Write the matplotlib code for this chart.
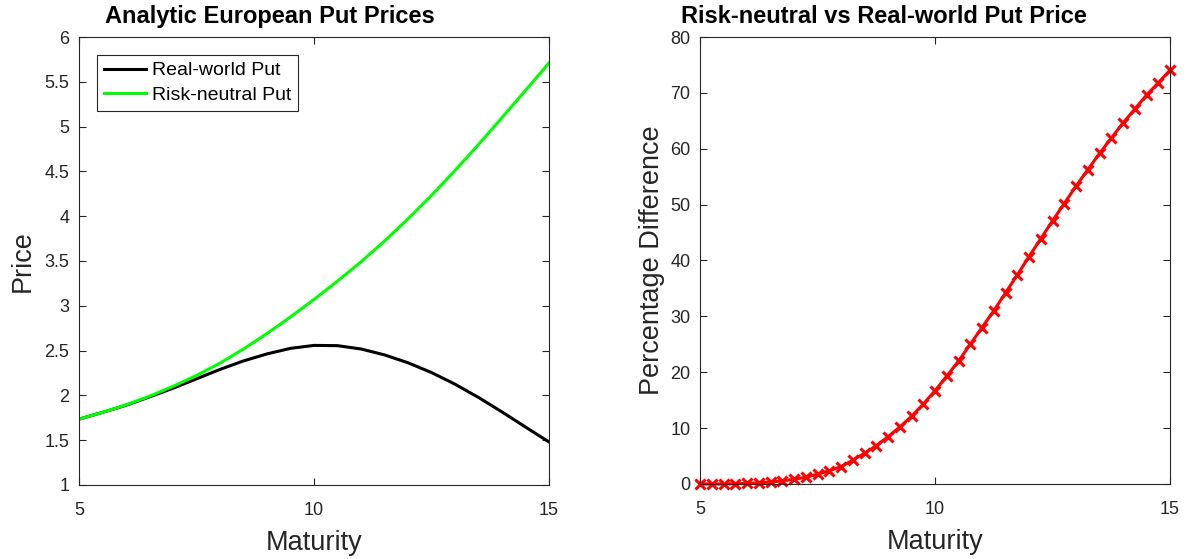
import matplotlib
matplotlib.use("Agg")
import matplotlib.pyplot as plt

plt.rcParams['font.family'] = ['Liberation Sans', 'DejaVu Sans']

# Put prices on a 0.5-year grid of maturities
maturity = [5.0, 5.5, 6.0, 6.5, 7.0, 7.5, 8.0, 8.5, 9.0, 9.5, 10.0,
            10.5, 11.0, 11.5, 12.0, 12.5, 13.0, 13.5, 14.0, 14.5, 15.0]
real_world_put = [1.735, 1.81, 1.89, 1.983, 2.08, 2.185, 2.29, 2.385, 2.463, 2.525, 2.558,
                  2.555, 2.518, 2.452, 2.364, 2.255, 2.125, 1.977, 1.815, 1.647, 1.48]
risk_neutral_put = [1.735, 1.81, 1.893, 1.99, 2.10, 2.222, 2.36, 2.517, 2.69, 2.875, 3.07,
                    3.275, 3.49, 3.722, 3.97, 4.232, 4.51, 4.80, 5.10, 5.403, 5.71]

# Percentage difference on a 0.25-year grid
maturity_fine = [5 + 0.25 * i for i in range(41)]
pct_diff = [0.0, 0.0, 0.0, 0.05, 0.1, 0.2, 0.35, 0.55, 0.85, 1.2,
            1.75, 2.35, 3.1, 4.25, 5.5, 6.85, 8.45, 10.2, 12.1, 14.3,
            16.7, 19.3, 22.0, 25.0, 28.0, 31.0, 34.2, 37.4, 40.7, 43.9,
            47.1, 50.2, 53.3, 56.25, 59.15, 61.9, 64.6, 67.1, 69.6, 71.8,
            74.05]

axis_col = (0.15, 0.15, 0.15)


def matlab_style(ax):
    for sp in ax.spines.values():
        sp.set_color(axis_col)
        sp.set_linewidth(0.8)
    ax.tick_params(direction='in', top=True, right=True, length=5,
                   width=0.8, color=axis_col, labelcolor=axis_col, labelsize=13)
    ax.tick_params(axis='x', pad=12)
    ax.tick_params(axis='y', pad=7)


fig = plt.figure(figsize=(11.94, 5.59), dpi=100)
ax1 = fig.add_axes([0.0662, 0.1324, 0.3936, 0.8014])
ax2 = fig.add_axes([0.5863, 0.1342, 0.3936, 0.7996])

ax1.plot(maturity, real_world_put, color='black', lw=2.2, label='Real-world Put')
ax1.plot(maturity, risk_neutral_put, color=(0, 1, 0), lw=2.2, label='Risk-neutral Put')
ax1.set_xlim(5, 15)
ax1.set_ylim(1, 6)
ax1.set_xticks([5, 10, 15])
ax1.set_yticks([1, 1.5, 2, 2.5, 3, 3.5, 4, 4.5, 5, 5.5, 6])
ax1.set_yticklabels(['1', '1.5', '2', '2.5', '3', '3.5', '4', '4.5', '5', '5.5', '6'])
ax1.set_xlabel('Maturity', fontsize=19.5, color=axis_col, labelpad=8)
ax1.set_ylabel('Price', fontsize=19.5, color=axis_col, labelpad=6)
ax1.set_title('Analytic European Put Prices', fontsize=17, fontweight='bold',
              x=0.406, pad=10)
leg = ax1.legend(loc='upper left', bbox_to_anchor=(0.038, 0.96), borderaxespad=0,
                 fontsize=14, fancybox=False, framealpha=1, edgecolor=axis_col,
                 handlelength=2.2, borderpad=0.35, labelspacing=0.35,
                 handletextpad=0.3)
leg.get_frame().set_linewidth(0.8)
matlab_style(ax1)

ax2.plot(maturity_fine, pct_diff, color='red', lw=2.2, marker='x',
         markersize=7, markeredgewidth=2.2)
ax2.set_xlim(5, 15)
ax2.set_ylim(0, 80)
ax2.set_xticks([5, 10, 15])
ax2.set_yticks(range(0, 81, 10))
ax2.set_xlabel('Maturity', fontsize=19.5, color=axis_col, labelpad=8)
ax2.set_ylabel('Percentage Difference', fontsize=19.5, color=axis_col, labelpad=4)
ax2.set_title('Risk-neutral vs Real-world Put Price', fontsize=17, fontweight='bold',
              x=0.392, pad=10)
matlab_style(ax2)
for line in ax2.get_lines():
    line.set_clip_on(False)

fig.savefig('out.png', dpi=100)
